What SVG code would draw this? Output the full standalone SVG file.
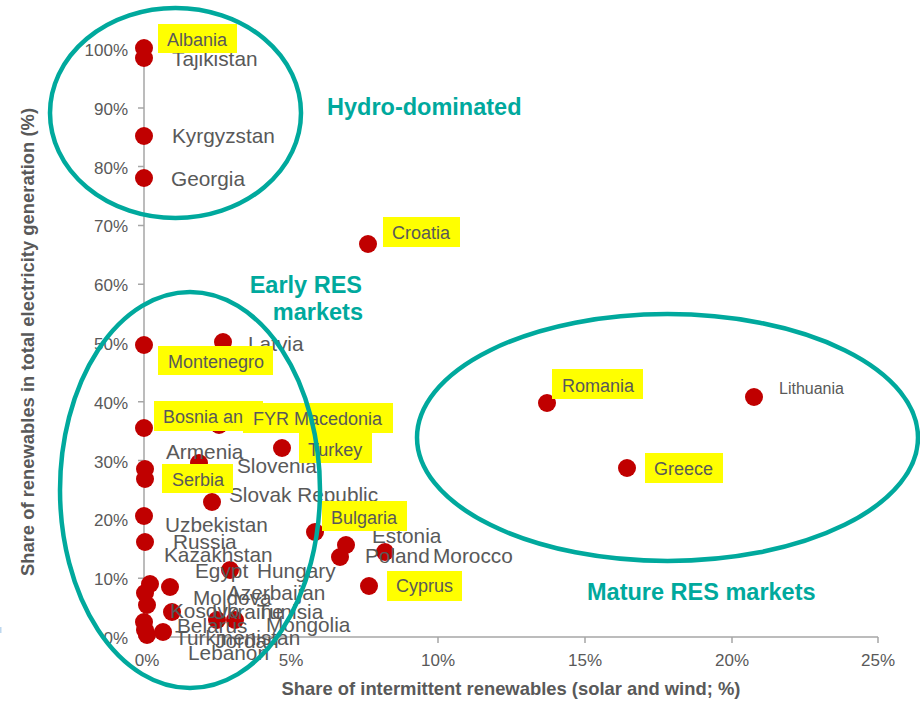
<svg xmlns="http://www.w3.org/2000/svg" width="920" height="702" viewBox="0 0 920 702">
<style>
text{font-family:"Liberation Sans",Arial,sans-serif;}
.dot{fill:#C00000;}
.lbl{font-size:20.8px;fill:#595959;}
.hl{font-size:18px;fill:#595959;}
.box{fill:#FFFF00;}
.tick{font-size:17px;fill:#595959;}
.ax{stroke:#A6A6A6;stroke-width:1.5;fill:none;}
.title{font-size:18.4px;font-weight:bold;fill:#595959;}
.grp{fill:none;stroke:#00A99D;stroke-width:4.5;}
.gt{font-size:23.5px;font-weight:bold;fill:#00A99D;}
</style>
<rect width="920" height="702" fill="#FFFFFF"/>
<rect x="0" y="627" width="1.5" height="6" fill="#BDD7EE"/>
<g id="axes">
<path class="ax" d="M144,49V637H878M138,49H144M138,108H144M138,166.6H144M138,225.4H144M138,284.2H144M138,343H144M138,401.8H144M138,460.6H144M138,519.4H144M138,578.2H144M138,637H144M144,637V643M291,637V643M438,637V643M585,637V643M732,637V643M878,637V643"/>
<g class="tick" text-anchor="end">
<text x="128" y="56">100%</text>
<text x="128" y="115">90%</text>
<text x="128" y="173.6">80%</text>
<text x="128" y="232.4">70%</text>
<text x="128" y="291.2">60%</text>
<text x="128" y="350">50%</text>
<text x="128" y="408.8">40%</text>
<text x="128" y="467.6">30%</text>
<text x="128" y="526.4">20%</text>
<text x="128" y="585.2">10%</text>
<text x="128" y="644">0%</text>
</g>
<g class="tick" text-anchor="middle">
<text x="147" y="666">0%</text>
<text x="291" y="666">5%</text>
<text x="438" y="666">10%</text>
<text x="585" y="666">15%</text>
<text x="732" y="666">20%</text>
<text x="878" y="666">25%</text>
</g>
<text class="title" x="511" y="695" text-anchor="middle">Share of intermittent renewables (solar and wind; %)</text>
<text class="title" transform="translate(34,342) rotate(-90)" text-anchor="middle">Share of renewables in total electricity generation (%)</text>
</g>
<g id="data-points">
<circle id="p-albania" class="dot" cx="144" cy="48" r="9"/>
<circle id="p-tajikistan" class="dot" cx="144" cy="58" r="9"/>
<circle id="p-kyrgyzstan" class="dot" cx="144" cy="136" r="9"/>
<circle id="p-georgia" class="dot" cx="144" cy="178" r="9"/>
<circle id="p-croatia" class="dot" cx="368" cy="244" r="9"/>
<circle id="p-montenegro" class="dot" cx="144" cy="345" r="9"/>
<circle id="p-latvia" class="dot" cx="223" cy="342" r="9"/>
<circle id="p-bosnia" class="dot" cx="144" cy="428" r="9"/>
<circle id="p-fyrmacedonia" class="dot" cx="219" cy="425" r="9"/>
<circle id="p-turkey" class="dot" cx="282" cy="448" r="9"/>
<circle id="p-slovenia" class="dot" cx="199" cy="463" r="9"/>
<circle id="p-armenia" class="dot" cx="145" cy="469" r="9"/>
<circle id="p-serbia" class="dot" cx="145" cy="479" r="9"/>
<circle id="p-slovakia" class="dot" cx="212" cy="502" r="9"/>
<circle id="p-uzbekistan" class="dot" cx="144" cy="516" r="9"/>
<circle id="p-russia" class="dot" cx="145" cy="542" r="9"/>
<circle id="p-bulgaria" class="dot" cx="315" cy="532" r="9"/>
<circle id="p-estonia" class="dot" cx="346" cy="545" r="9"/>
<circle id="p-poland" class="dot" cx="340" cy="557" r="9"/>
<circle id="p-morocco" class="dot" cx="385" cy="552" r="9"/>
<circle id="p-cyprus" class="dot" cx="369" cy="586" r="9"/>
<circle id="p-hungary" class="dot" cx="230" cy="570" r="9"/>
<circle id="p-a1" class="dot" cx="150" cy="584" r="9"/>
<circle id="p-a2" class="dot" cx="145" cy="593" r="9"/>
<circle id="p-a3" class="dot" cx="147" cy="605" r="9"/>
<circle id="p-a4" class="dot" cx="144" cy="622" r="9"/>
<circle id="p-a5" class="dot" cx="145" cy="630" r="9"/>
<circle id="p-a6" class="dot" cx="147" cy="635" r="9"/>
<circle id="p-b1" class="dot" cx="170" cy="587" r="9"/>
<circle id="p-b2" class="dot" cx="172" cy="612" r="9"/>
<circle id="p-b3" class="dot" cx="163" cy="632" r="9"/>
<circle id="p-c1" class="dot" cx="217" cy="620" r="9"/>
<circle id="p-c2" class="dot" cx="235" cy="620" r="9"/>
<circle id="p-romania" class="dot" cx="547" cy="403" r="9"/>
<circle id="p-lithuania" class="dot" cx="754" cy="397" r="9"/>
<circle id="p-greece" class="dot" cx="627" cy="468" r="9"/>
</g>
<g id="gray-labels" class="lbl">
<g id="n-tajikistan"><text x="172" y="66">Tajikistan</text></g>
<g id="n-kyrgyzstan"><text x="172" y="143">Kyrgyzstan</text></g>
<g id="n-georgia"><text x="171" y="186">Georgia</text></g>
<g id="n-latvia"><text x="248" y="351">Latvia</text></g>
<g id="n-armenia"><text x="166" y="459">Armenia</text></g>
<g id="n-slovenia"><text x="237" y="473">Slovenia</text></g>
<g id="n-slovakia"><text x="229" y="502">Slovak Republic</text></g>
<g id="n-uzbekistan"><text x="165" y="532">Uzbekistan</text></g>
<g id="n-russia"><text x="173" y="549">Russia</text></g>
<g id="n-kazakhstan"><text x="164" y="562">Kazakhstan</text></g>
<g id="n-egypt"><text x="195" y="578">Egypt</text></g>
<g id="n-hungary"><text x="257" y="578">Hungary</text></g>
<g id="n-azerbaijan"><text x="227" y="600">Azerbaijan</text></g>
<g id="n-moldova"><text x="193" y="605">Moldova</text></g>
<g id="n-kosovo"><text x="170" y="618">Kosovo</text></g>
<g id="n-ukraine"><text x="212" y="619">Ukraine</text></g>
<g id="n-tunisia"><text x="257" y="619">Tunisia</text></g>
<g id="n-belarus"><text x="177" y="633">Belarus</text></g>
<g id="n-mongolia"><text x="266" y="632">Mongolia</text></g>
<g id="n-turkmenistan"><text x="175" y="645">Turkmenistan</text></g>
<g id="n-jordan"><text x="215" y="648">Jordan</text></g>
<g id="n-lebanon"><text x="188" y="660">Lebanon</text></g>
<g id="n-estonia"><text x="372" y="543">Estonia</text></g>
<g id="n-poland"><text x="365" y="563">Poland</text></g>
<g id="n-morocco"><text x="433" y="563">Morocco</text></g>
<g id="n-lithuania"><text x="779" y="394" font-size="16">Lithuania</text></g>
</g>
<g id="highlight-labels" class="hl">
<g id="n-albania"><rect class="box" x="158" y="24" width="79" height="29"/><text x="167" y="46">Albania</text></g>
<g id="n-croatia"><rect class="box" x="383" y="217" width="77" height="30"/><text x="392" y="239">Croatia</text></g>
<g id="n-montenegro"><rect class="box" x="158" y="346" width="115" height="29"/><text x="168" y="368">Montenegro</text></g>
<g id="n-bosnia"><rect class="box" x="154" y="401" width="109" height="30"/><text x="163" y="423">Bosnia an</text></g>
<g id="n-fyrmacedonia"><rect class="box" x="243" y="403" width="150" height="30"/><text x="253" y="425">FYR Macedonia</text></g>
<g id="n-turkey"><rect class="box" x="299" y="433" width="73" height="30"/><text x="308" y="456">Turkey</text></g>
<g id="n-serbia"><rect class="box" x="162" y="464" width="71" height="29"/><text x="172" y="486">Serbia</text></g>
<g id="n-bulgaria"><rect class="box" x="322" y="501" width="85" height="30"/><text x="331" y="524">Bulgaria</text></g>
<g id="n-cyprus"><rect class="box" x="387" y="571" width="75" height="30"/><text x="396" y="592">Cyprus</text></g>
<g id="n-romania"><rect class="box" x="552" y="369" width="91" height="30"/><text x="562" y="392">Romania</text></g>
<g id="n-greece"><rect class="box" x="645" y="453" width="78" height="30"/><text x="654" y="475">Greece</text></g>
</g>
<g id="clusters">
<g id="c-hydro"><ellipse class="grp" cx="175.5" cy="113" rx="125.5" ry="105"/><text class="gt" x="327" y="115">Hydro-dominated</text></g>
<g id="c-early"><ellipse class="grp" cx="190" cy="490" rx="130" ry="198"/><text class="gt" x="362" y="293" text-anchor="end">Early RES</text><text class="gt" x="363" y="320" text-anchor="end">markets</text></g>
<g id="c-mature"><ellipse class="grp" cx="667.5" cy="437.5" rx="250.5" ry="123.5"/><text class="gt" x="587" y="600">Mature RES markets</text></g>
</g>
<g id="connectors"/>
</svg>
